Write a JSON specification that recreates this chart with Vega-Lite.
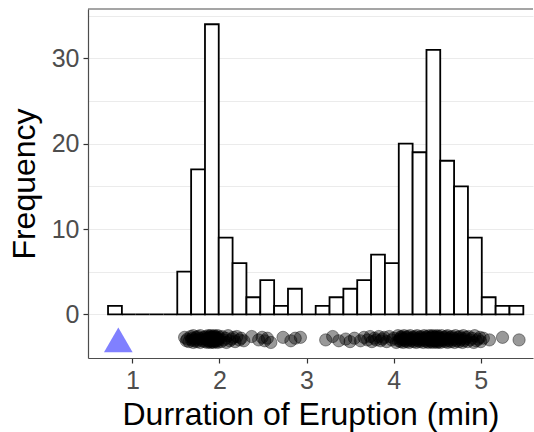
{
  "$schema": "https://vega.github.io/schema/vega-lite/v6.json",
  "width": 445,
  "height": 349,
  "autosize": "none",
  "padding": {"left": 88, "top": 9, "right": 1, "bottom": 74},
  "background": "white",
  "config": {"view": {"stroke": null}, "font": "Liberation Sans"},
  "datasets": {
    "bins": [
      {"x0": 0.721, "x1": 0.880, "count": 1},
      {"x0": 0.880, "x1": 1.039, "count": 0},
      {"x0": 1.039, "x1": 1.198, "count": 0},
      {"x0": 1.198, "x1": 1.357, "count": 0},
      {"x0": 1.357, "x1": 1.516, "count": 0},
      {"x0": 1.516, "x1": 1.675, "count": 5},
      {"x0": 1.675, "x1": 1.834, "count": 17},
      {"x0": 1.834, "x1": 1.992, "count": 34},
      {"x0": 1.992, "x1": 2.151, "count": 9},
      {"x0": 2.151, "x1": 2.310, "count": 6},
      {"x0": 2.310, "x1": 2.469, "count": 2},
      {"x0": 2.469, "x1": 2.628, "count": 4},
      {"x0": 2.628, "x1": 2.787, "count": 1},
      {"x0": 2.787, "x1": 2.946, "count": 3},
      {"x0": 2.946, "x1": 3.105, "count": 0},
      {"x0": 3.105, "x1": 3.264, "count": 1},
      {"x0": 3.264, "x1": 3.423, "count": 2},
      {"x0": 3.423, "x1": 3.582, "count": 3},
      {"x0": 3.582, "x1": 3.741, "count": 4},
      {"x0": 3.741, "x1": 3.900, "count": 7},
      {"x0": 3.900, "x1": 4.059, "count": 6},
      {"x0": 4.059, "x1": 4.218, "count": 20},
      {"x0": 4.218, "x1": 4.377, "count": 19},
      {"x0": 4.377, "x1": 4.535, "count": 31},
      {"x0": 4.535, "x1": 4.694, "count": 18},
      {"x0": 4.694, "x1": 4.853, "count": 15},
      {"x0": 4.853, "x1": 5.012, "count": 9},
      {"x0": 5.012, "x1": 5.171, "count": 2},
      {"x0": 5.171, "x1": 5.330, "count": 1},
      {"x0": 5.330, "x1": 5.489, "count": 1}
    ],
    "pts": [
      {"x": 1.60, "y": -2.7}, {"x": 1.62, "y": -3.1}, {"x": 1.63, "y": -2.9}, {"x": 1.65, "y": -3.2}, {"x": 1.67, "y": -2.6},
      {"x": 1.68, "y": -3.0}, {"x": 1.69, "y": -2.8}, {"x": 1.70, "y": -3.3}, {"x": 1.70, "y": -2.5}, {"x": 1.71, "y": -3.1},
      {"x": 1.72, "y": -2.9}, {"x": 1.73, "y": -2.7}, {"x": 1.74, "y": -3.2}, {"x": 1.75, "y": -2.6}, {"x": 1.75, "y": -3.0},
      {"x": 1.77, "y": -2.8}, {"x": 1.78, "y": -3.3}, {"x": 1.78, "y": -2.5}, {"x": 1.80, "y": -3.1}, {"x": 1.80, "y": -2.9},
      {"x": 1.82, "y": -2.7}, {"x": 1.83, "y": -3.2},
      {"x": 1.84, "y": -2.6}, {"x": 1.85, "y": -3.0}, {"x": 1.85, "y": -2.8}, {"x": 1.86, "y": -3.3}, {"x": 1.87, "y": -2.5},
      {"x": 1.87, "y": -3.1}, {"x": 1.87, "y": -2.9}, {"x": 1.88, "y": -2.7}, {"x": 1.88, "y": -3.2}, {"x": 1.89, "y": -2.6},
      {"x": 1.90, "y": -3.0}, {"x": 1.90, "y": -2.8}, {"x": 1.90, "y": -3.3}, {"x": 1.90, "y": -2.5}, {"x": 1.91, "y": -3.1},
      {"x": 1.92, "y": -2.9}, {"x": 1.92, "y": -2.7}, {"x": 1.92, "y": -3.2}, {"x": 1.93, "y": -2.6}, {"x": 1.93, "y": -3.0},
      {"x": 1.93, "y": -2.8}, {"x": 1.93, "y": -3.3}, {"x": 1.94, "y": -2.5}, {"x": 1.95, "y": -3.1}, {"x": 1.95, "y": -2.9},
      {"x": 1.95, "y": -2.7}, {"x": 1.96, "y": -3.2}, {"x": 1.96, "y": -2.6}, {"x": 1.97, "y": -3.0}, {"x": 1.97, "y": -2.8},
      {"x": 1.98, "y": -3.3}, {"x": 1.98, "y": -2.5}, {"x": 1.98, "y": -3.1}, {"x": 1.99, "y": -2.9},
      {"x": 2.00, "y": -2.7}, {"x": 2.02, "y": -3.2}, {"x": 2.03, "y": -2.6}, {"x": 2.05, "y": -3.0}, {"x": 2.07, "y": -2.8},
      {"x": 2.08, "y": -3.3}, {"x": 2.10, "y": -2.5}, {"x": 2.12, "y": -3.1}, {"x": 2.14, "y": -2.9},
      {"x": 2.16, "y": -2.7}, {"x": 2.18, "y": -3.2}, {"x": 2.20, "y": -2.6}, {"x": 2.23, "y": -3.0}, {"x": 2.25, "y": -2.8},
      {"x": 2.28, "y": -3.1},
      {"x": 2.37, "y": -2.6}, {"x": 2.45, "y": -3.0},
      {"x": 2.49, "y": -2.7}, {"x": 2.52, "y": -3.1}, {"x": 2.55, "y": -2.8}, {"x": 2.59, "y": -3.3},
      {"x": 2.73, "y": -2.7},
      {"x": 2.82, "y": -3.1}, {"x": 2.87, "y": -2.8}, {"x": 2.93, "y": -2.7},
      {"x": 3.22, "y": -3.0},
      {"x": 3.30, "y": -2.6}, {"x": 3.37, "y": -3.1},
      {"x": 3.45, "y": -2.9}, {"x": 3.50, "y": -3.2}, {"x": 3.55, "y": -2.8},
      {"x": 3.62, "y": -3.1}, {"x": 3.66, "y": -2.7}, {"x": 3.70, "y": -3.0}, {"x": 3.73, "y": -2.6},
      {"x": 3.75, "y": -3.2}, {"x": 3.78, "y": -2.8}, {"x": 3.80, "y": -3.0}, {"x": 3.83, "y": -2.6}, {"x": 3.85, "y": -3.1},
      {"x": 3.87, "y": -2.9}, {"x": 3.89, "y": -2.7},
      {"x": 3.92, "y": -3.2}, {"x": 3.95, "y": -2.6}, {"x": 3.98, "y": -3.0}, {"x": 4.00, "y": -2.8}, {"x": 4.03, "y": -3.3},
      {"x": 4.05, "y": -2.5},
      {"x": 4.06, "y": -3.1}, {"x": 4.07, "y": -2.9}, {"x": 4.08, "y": -2.7}, {"x": 4.08, "y": -3.2}, {"x": 4.09, "y": -2.6},
      {"x": 4.10, "y": -3.0}, {"x": 4.10, "y": -2.8}, {"x": 4.11, "y": -3.3}, {"x": 4.12, "y": -2.5}, {"x": 4.13, "y": -3.1},
      {"x": 4.13, "y": -2.9}, {"x": 4.14, "y": -2.7}, {"x": 4.15, "y": -3.2}, {"x": 4.16, "y": -2.6}, {"x": 4.17, "y": -3.0},
      {"x": 4.18, "y": -2.8}, {"x": 4.18, "y": -3.3}, {"x": 4.19, "y": -2.5}, {"x": 4.20, "y": -3.1}, {"x": 4.21, "y": -2.9},
      {"x": 4.22, "y": -2.7}, {"x": 4.23, "y": -3.2}, {"x": 4.24, "y": -2.6}, {"x": 4.25, "y": -3.0}, {"x": 4.25, "y": -2.8},
      {"x": 4.26, "y": -3.3}, {"x": 4.27, "y": -2.5}, {"x": 4.28, "y": -3.1}, {"x": 4.29, "y": -2.9}, {"x": 4.30, "y": -2.7},
      {"x": 4.30, "y": -3.2}, {"x": 4.31, "y": -2.6}, {"x": 4.32, "y": -3.0}, {"x": 4.33, "y": -2.8}, {"x": 4.34, "y": -3.3},
      {"x": 4.35, "y": -2.5}, {"x": 4.35, "y": -3.1}, {"x": 4.36, "y": -2.9}, {"x": 4.37, "y": -2.7},
      {"x": 4.38, "y": -3.2}, {"x": 4.38, "y": -2.6}, {"x": 4.39, "y": -3.0}, {"x": 4.40, "y": -2.8}, {"x": 4.40, "y": -3.3},
      {"x": 4.41, "y": -2.5}, {"x": 4.42, "y": -3.1}, {"x": 4.42, "y": -2.9}, {"x": 4.42, "y": -2.7}, {"x": 4.43, "y": -3.2},
      {"x": 4.44, "y": -2.6}, {"x": 4.45, "y": -3.0}, {"x": 4.45, "y": -2.8}, {"x": 4.45, "y": -3.3}, {"x": 4.45, "y": -2.5},
      {"x": 4.46, "y": -3.1}, {"x": 4.47, "y": -2.9}, {"x": 4.47, "y": -2.7}, {"x": 4.48, "y": -3.2}, {"x": 4.48, "y": -2.6},
      {"x": 4.48, "y": -3.0}, {"x": 4.49, "y": -2.8}, {"x": 4.50, "y": -3.3}, {"x": 4.50, "y": -2.5}, {"x": 4.50, "y": -3.1},
      {"x": 4.50, "y": -2.9}, {"x": 4.51, "y": -2.7}, {"x": 4.52, "y": -3.2}, {"x": 4.52, "y": -2.6}, {"x": 4.53, "y": -3.0},
      {"x": 4.53, "y": -2.8},
      {"x": 4.54, "y": -3.3}, {"x": 4.55, "y": -2.5}, {"x": 4.56, "y": -3.1}, {"x": 4.57, "y": -2.9}, {"x": 4.58, "y": -2.7},
      {"x": 4.59, "y": -3.2}, {"x": 4.60, "y": -2.6}, {"x": 4.60, "y": -3.0}, {"x": 4.61, "y": -2.8}, {"x": 4.62, "y": -3.3},
      {"x": 4.62, "y": -2.5}, {"x": 4.63, "y": -3.1}, {"x": 4.64, "y": -2.9}, {"x": 4.65, "y": -2.7}, {"x": 4.66, "y": -3.2},
      {"x": 4.67, "y": -2.6}, {"x": 4.68, "y": -3.0}, {"x": 4.69, "y": -2.8},
      {"x": 4.70, "y": -3.3}, {"x": 4.71, "y": -2.5}, {"x": 4.72, "y": -3.1}, {"x": 4.73, "y": -2.9}, {"x": 4.74, "y": -2.7},
      {"x": 4.75, "y": -3.2}, {"x": 4.76, "y": -2.6}, {"x": 4.77, "y": -3.0}, {"x": 4.78, "y": -2.8}, {"x": 4.79, "y": -3.3},
      {"x": 4.80, "y": -2.5}, {"x": 4.81, "y": -3.1}, {"x": 4.82, "y": -2.9}, {"x": 4.83, "y": -2.7}, {"x": 4.85, "y": -3.2},
      {"x": 4.86, "y": -2.6}, {"x": 4.88, "y": -3.0}, {"x": 4.90, "y": -2.8}, {"x": 4.92, "y": -3.3}, {"x": 4.93, "y": -2.5},
      {"x": 4.95, "y": -3.1}, {"x": 4.97, "y": -2.9}, {"x": 4.99, "y": -2.7}, {"x": 5.00, "y": -3.2},
      {"x": 5.03, "y": -2.8}, {"x": 5.10, "y": -3.0},
      {"x": 5.25, "y": -2.7},
      {"x": 5.44, "y": -3.0}
    ],
    "outlier": [{"x": 0.839, "y": -3}]
  },
  "layer": [
    {
      "data": {"name": "bins"},
      "mark": {"type": "bar", "fill": "white", "stroke": "black", "strokeWidth": 1.8},
      "encoding": {
        "x": {
          "field": "x0", "type": "quantitative",
          "scale": {"domain": [0.491, 5.6], "nice": false, "zero": false},
          "axis": {
            "title": "Durration of Eruption (min)",
            "values": [1, 2, 3, 4, 5],
            "format": "d",
            "grid": false,
            "domain": true, "domainColor": "#4d4d4d", "domainWidth": 1.2,
            "ticks": true, "tickColor": "#333333", "tickSize": 5, "tickWidth": 1.2,
            "labelFontSize": 25, "labelColor": "#4d4d4d", "labelPadding": 5,
            "titleFontSize": 32, "titleFontWeight": "normal", "titleColor": "black", "titlePadding": 6
          }
        },
        "x2": {"field": "x1"},
        "y": {
          "field": "count", "type": "quantitative",
          "scale": {"domain": [-5.12, 35.79], "nice": false, "zero": false},
          "axis": {
            "title": "Frequency",
            "values": [0, 5, 10, 15, 20, 25, 30, 35],
            "labelExpr": "datum.value % 10 === 0 ? datum.label : ''",
            "grid": true, "gridColor": "#ebebeb", "gridWidth": 1,
            "domain": true, "domainColor": "#4d4d4d", "domainWidth": 1.2,
            "ticks": true, "tickColor": "#333333", "tickSize": 5, "tickWidth": 1.2,
            "tickOpacity": {"condition": {"test": "datum.value % 10 !== 0", "value": 0}, "value": 1},
            "labelFontSize": 25, "labelColor": "#4d4d4d", "labelPadding": 4,
            "titleFontSize": 32, "titleFontWeight": "normal", "titleColor": "black", "titlePadding": 10
          }
        },
        "y2": {"datum": 0}
      }
    },
    {
      "data": {"name": "pts"},
      "mark": {"type": "point", "shape": "circle", "filled": true, "size": 150, "fill": "black", "fillOpacity": 0.4, "stroke": "black", "strokeOpacity": 0.4, "strokeWidth": 1},
      "encoding": {
        "x": {"field": "x", "type": "quantitative"},
        "y": {"field": "y", "type": "quantitative"}
      }
    },
    {
      "data": {"name": "outlier"},
      "mark": {"type": "point", "shape": "triangle-up", "filled": true, "size": 820, "color": "#8080ff", "opacity": 1},
      "encoding": {
        "x": {"field": "x", "type": "quantitative"},
        "y": {"field": "y", "type": "quantitative"}
      }
    },
    {
      "data": {"values": [{}]},
      "mark": {"type": "rule", "color": "#4d4d4d", "strokeWidth": 1.2},
      "encoding": {"y": {"datum": 35.79}}
    }
  ]
}
